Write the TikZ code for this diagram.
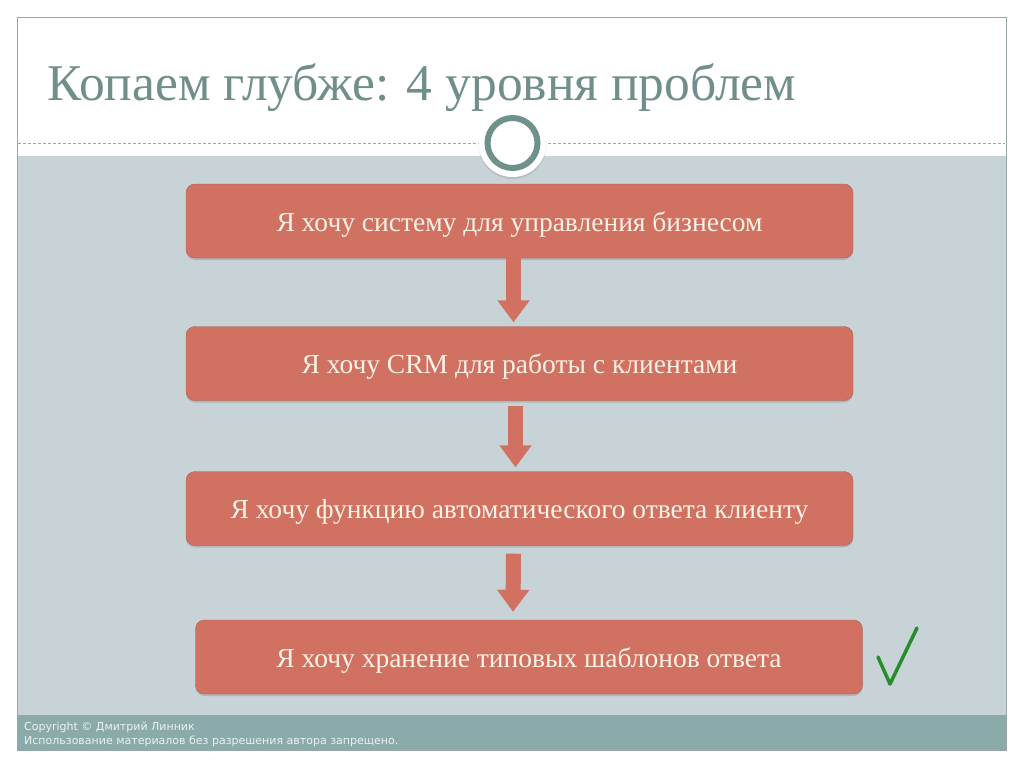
\documentclass[tikz,border=0pt]{standalone}
\usepackage{fontspec}
\setmainfont{Liberation Serif}
\newfontfamily\copyfont{DejaVu Sans}
\usepackage{xcolor}
\usepackage{tikz}
\usetikzlibrary{arrows.meta,shadows}

\definecolor{framegray}{RGB}{150,168,168}
\definecolor{titlegray}{RGB}{112,143,139}
\definecolor{panelgray}{RGB}{200,211,216}
\definecolor{footteal}{RGB}{138,171,169}
\definecolor{foottext}{RGB}{235,242,242}
\definecolor{ringgray}{RGB}{110,145,140}
\definecolor{boxfill}{RGB}{208,113,97}
\definecolor{boxedge}{RGB}{178,92,78}
\definecolor{boxtext}{RGB}{252,243,230}
\definecolor{checkgreen}{RGB}{40,140,45}

\begin{document}
\begin{tikzpicture}[x=1pt, y=-1pt,
        levelbox/.style={draw=boxedge, fill=boxfill, rounded corners=9pt,
            minimum width=667pt, minimum height=74pt, text=boxtext,
            text height=25pt, text depth=5pt,
            font=\fontsize{27.5}{30}\selectfont,
            drop shadow={shadow xshift=0pt, shadow yshift=-2pt, opacity=0.35}},
        downarrow/.style={draw=boxfill, line width=15pt,
            -{Triangle[width=31pt, length=22pt]}}]
        \useasboundingbox[fill=white] (0, 0) rectangle (1024, 768);
        \fill[panelgray] (17, 156) rectangle (1006, 715);
        \fill[footteal] (17, 715) rectangle (1006, 750);
        \draw[framegray] (17, 17) rectangle (1006, 750);
        \draw[framegray, dash pattern=on 3pt off 2pt] (18, 143) -- (1005, 143);
        \node[anchor=base west, inner sep=0pt, text=titlegray, font=\fontsize{51.5}{55}\selectfont] (title) at (47, 100) {Копаем глубже: 4 уровня проблем};
        \node[circle, fill=white, minimum size=68pt, drop shadow={shadow xshift=0pt, shadow yshift=-2pt, opacity=0.25}] (knob) at (512.5, 143) {};
        \node[circle, draw=ringgray, line width=6pt, minimum size=50pt] (ring) at (knob) {};
        \node[levelbox] (wish1) at (519.5, 221) {Я хочу систему для управления бизнесом};
        \node[levelbox] (wish2) at (519.5, 363.5) {Я хочу CRM для работы с клиентами};
        \node[levelbox] (wish3) at (519.5, 508.5) {Я хочу функцию автоматического ответа клиенту};
        \node[levelbox] (wish4) at (529, 657) {Я хочу хранение типовых шаблонов ответа};
        \draw[downarrow] ([xshift=-6pt]wish1.south) -- ([xshift=-6pt, yshift=4pt]wish2.north);
        \draw[downarrow] ([xshift=-4pt, yshift=-5pt]wish2.south) -- ([xshift=-4pt, yshift=4pt]wish3.north);
        \draw[downarrow] ([xshift=-6pt, yshift=-8pt]wish3.south) -- ([xshift=-16pt, yshift=8pt]wish4.north);
        \draw[checkgreen, line width=3.5pt, line cap=round, line join=round] (878, 657) -- (890, 684) -- (917, 628);
        \node[anchor=north west, align=left, inner sep=0pt, text=foottext, font=\copyfont\fontsize{11}{14}\selectfont] (copy) at (24, 722) {Copyright © Дмитрий Линник\\Использование материалов без разрешения автора запрещено.};
    \end{tikzpicture}
\end{document}
